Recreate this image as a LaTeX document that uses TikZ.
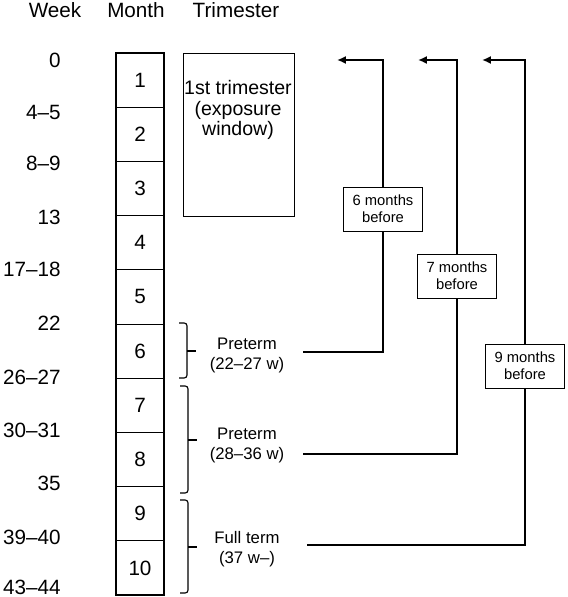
\documentclass[tikz,border=0pt]{standalone}
\usepackage{fontspec}
\setmainfont{Liberation Sans}
\usetikzlibrary{arrows.meta}

\tikzset{
  head/.style={inner sep=0pt, font=\fontsize{14.7}{17}\selectfont},
  week/.style={head, anchor=east},
  cell/.style={draw, line width=0.6pt, inner sep=0pt, minimum width=1.2cm, minimum height=1.355cm, head},
  term/.style={inner sep=0pt, align=center, font=\fontsize{11.9}{14.2}\selectfont},
  before/.style={draw, line width=0.6pt, fill=white, inner sep=0pt, align=center, minimum width=1.975cm, minimum height=1.1cm, font=\fontsize{10.5}{12.3}\selectfont},
  wire/.style={line width=1.3pt},
  bracket/.style={line width=0.8pt, rounded corners=2pt}
}

\begin{document}
\begin{tikzpicture}[x=0.025cm, y=-0.025cm]
\useasboundingbox (0,0) rectangle (567,597);

% column heads
\node[head] (hweek) at (55,10) {Week};
\node[head] (hmonth) at (136,10) {Month};
\node[head] (htri) at (236,10) {Trimester};

% weeks
\foreach \w/\y [count=\i] in {0/60, 4–5/112, 8–9/163, 13/217, 17–18/269,
    22/323, 26–27/377, 30–31/430, 35/483, 39–40/537, 43–44/587}
  \node[week] (w\i) at (61,\y) {\w};

% months
\foreach \m in {1,...,10}
  \node[cell] (m\m) at (140,{53+54.2*(\m-0.5)}) {\m};
\draw[line width=1.5pt] (m1.north west) rectangle (m10.south east);

% first trimester
\node[draw, line width=0.6pt, inner sep=0pt, minimum width=2.775cm, minimum height=4.075cm] (tri) at (238.5,134.5) {};
\node[inner sep=0pt, align=center, font=\fontsize{13.9}{14.6}\selectfont] (tritxt) at (238,110) {1st trimester\\(exposure\\window)};

% brackets
\draw[bracket] (179,323) -- (187,323) -- (187,378) -- (179,378);
\draw[bracket] (187,351) -- (196,351);
\draw[bracket] (180,386) -- (188,386) -- (188,493) -- (180,493);
\draw[bracket] (188,440) -- (197,440);
\draw[bracket] (180,500) -- (188,500) -- (188,593) -- (180,593);
\draw[bracket] (188,547) -- (197,547);

\node[term] (p1) at (247,355) {Preterm\\(22–27 w)};
\node[term] (p2) at (247,445) {Preterm\\(28–36 w)};
\node[term] (ft) at (247,549) {Full term\\(37 w–)};

% months before
\node[before] (b6) at (383,209) {6 months\\before};
\node[before] (b7) at (457,276) {7 months\\before};
\node[before] (b9) at (525,366) {9 months\\before};

\coordinate (s6) at (303,352);
\coordinate (s7) at (303,454);
\coordinate (s9) at (307,545);
\coordinate (e6) at (337,60);
\coordinate (e7) at (418,60);
\coordinate (e9) at (482,60);

\draw[wire] (s6) -| (b6.south);
\draw[wire, -{Latex[length=0.22cm, width=0.2cm]}] (b6.north) |- (e6);
\draw[wire] (s7) -| (b7.south);
\draw[wire, -{Latex[length=0.22cm, width=0.2cm]}] (b7.north) |- (e7);
\draw[wire] (s9) -| (b9.south);
\draw[wire, -{Latex[length=0.22cm, width=0.2cm]}] (b9.north) |- (e9);

\end{tikzpicture}
\end{document}
